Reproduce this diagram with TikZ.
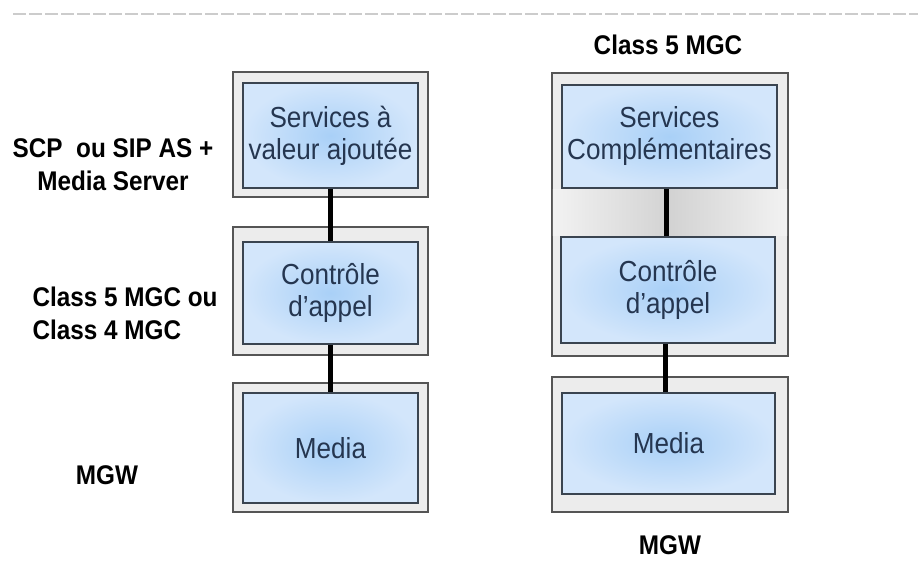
\documentclass[tikz,border=0pt]{standalone}
\usepackage{fontspec}
\newfontfamily\narrowfont[FakeStretch=0.9]{Liberation Sans}
\usetikzlibrary{positioning}
\definecolor{framefill}{HTML}{ECECEC}
\definecolor{framedraw}{HTML}{555555}
\definecolor{layerdraw}{HTML}{3A4450}
\definecolor{layerin}{HTML}{A9D0F7}
\definecolor{layerout}{HTML}{D3E6FB}
\definecolor{layertext}{HTML}{253650}
\tikzstyle{frame}=[draw=framedraw,fill=framefill,line width=1.3pt,rectangle,inner sep=0pt,minimum width=195pt]
\tikzstyle{layer}=[draw=layerdraw,line width=1.6pt,rectangle,inner sep=0pt,inner color=layerin,outer color=layerout,text=layertext,align=center,font=\narrowfont\fontsize{29}{32}\selectfont]
\tikzstyle{side}=[font=\narrowfont\bfseries\fontsize{27}{33}\selectfont]
\tikzstyle{link}=[line width=5pt]

\begin{document}
\begin{tikzpicture}[x=1pt,y=-1pt]
    \useasboundingbox (0,0) rectangle (918,561);
    \draw[gray!40,line width=2.5pt,dash pattern=on 13pt off 3pt] (13,14) -- (918,14);
    % left column
    \node[frame, minimum height=125pt] (fL1) at (330.5,134.5) {};
    \node[layer, minimum width=175pt, minimum height=105pt] (svcL) at (330.5,135.5) {Services à\\valeur ajoutée};
    \node[frame, minimum height=128pt] (fL2) at (330.5,291) {};
    \node[layer, minimum width=175pt, minimum height=102pt] (ctlL) at (330.5,293) {Contrôle\\d’appel};
    \node[frame, minimum height=129pt] (fL3) at (330.5,447.5) {};
    \node[layer, minimum width=175pt, minimum height=110pt] (medL) at (330.5,448) {Media};
    \draw[link] (svcL) -- (ctlL);
    \draw[link] (ctlL) -- (medL);
    \node[side, align=center] (scp) at (113,165) {SCP~ ou SIP AS +\\Media Server};
    \node[side, align=left, anchor=west] (mgcL) at (29,313) {Class 5 MGC ou\\Class 4 MGC};
    \node[side] (mgwL) at (107,475) {MGW};
    % right column
    \node[frame, minimum width=236pt, minimum height=283pt] (fR1) at (670,214.5) {};
    \node[layer, minimum width=215pt, minimum height=103pt] (svcR) at (669.5,136.5) {Services\\Complémentaires};
    \node[layer, minimum width=214pt, minimum height=106pt] (ctlR) at (668,290) {Contrôle\\d’appel};
    \shade[left color=gray!10, right color=gray!10, middle color=gray!35]
        ([xshift=1.5pt,yshift=-0.8pt]fR1.west |- svcR.south) rectangle ([xshift=-1.5pt,yshift=0.8pt]fR1.east |- ctlR.north);
    \node[frame, minimum width=236pt, minimum height=135pt] (fR2) at (670,444.5) {};
    \node[layer, minimum width=213pt, minimum height=101pt] (medR) at (668.5,443.5) {Media};
    \draw[link] ([xshift=-3pt]svcR.south) -- ([xshift=-3pt]svcR.south |- ctlR.north);
    \draw[link] ([xshift=-3pt]ctlR.south) -- ([xshift=-3pt]ctlR.south |- medR.north);
    \node[side] (mgcR) at (668,45) {Class 5 MGC};
    \node[side] (mgwR) at (670,545) {MGW};
\end{tikzpicture}
\end{document}
